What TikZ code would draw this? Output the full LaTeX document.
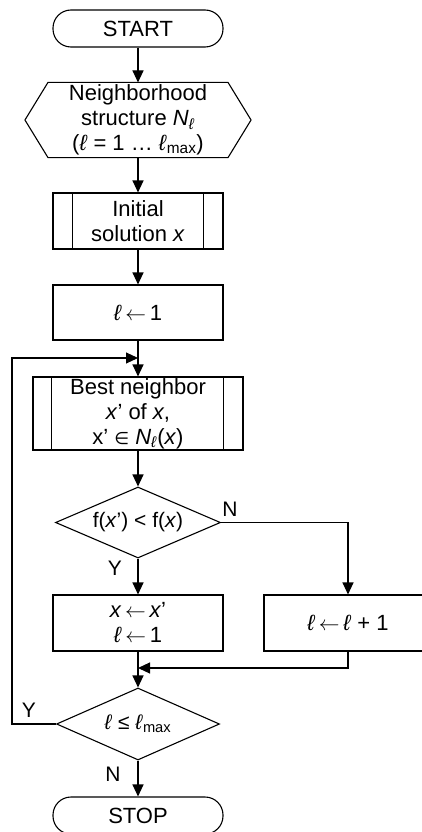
\documentclass[tikz,border=0pt]{standalone}
\usepackage{fontspec}
\setmainfont{Liberation Sans}
\newfontfamily\symfont{DejaVu Sans}
\usetikzlibrary{shapes.geometric,arrows.meta}
\newcommand{\lit}{\textit{ℓ}}
\newcommand{\larr}{\,$\leftarrow$\,}
\begin{document}
\begin{tikzpicture}[x=1pt,y=-1pt,line width=1.1pt,
  font=\fontsize{22}{25}\selectfont,
  arr/.style={-{Triangle[length=12pt,width=11pt]}},
  box/.style={draw,rectangle,inner sep=0pt,align=center},
  term/.style={box,rounded corners=18pt,minimum width=170,minimum height=37},
  plain/.style={inner sep=0pt,align=center},
  dia/.style={draw,diamond,aspect=2.3,inner sep=0pt,align=center,font=\fontsize{21}{24}\selectfont},
  lab/.style={inner sep=0pt,font=\fontsize{21}{24}\selectfont}
]
\useasboundingbox (0,0) rectangle (422,832);

\node[term] (start) at (138,28.5) {START};

\node[plain,minimum width=225,minimum height=74] (hex) at (138,120)
  {Neighborhood\\ structure \textit{N}\textsubscript{\lit}\\ (\lit\ = 1 … \lit\textsubscript{max})};
\draw ([xshift=23pt]hex.north west) -- ([xshift=-23pt]hex.north east) -- (hex.east)
  -- ([xshift=-23pt]hex.south east) -- ([xshift=23pt]hex.south west) -- (hex.west) -- cycle;

\node[box,minimum width=170,minimum height=56] (init) at (138,221) {Initial\\ solution \textit{x}};
\draw ([xshift=20pt]init.north west) -- ([xshift=20pt]init.south west);
\draw ([xshift=-20pt]init.north east) -- ([xshift=-20pt]init.south east);

\node[box,minimum width=170,minimum height=55] (l1) at (138,312.5) {\lit\larr 1};

\node[box,minimum width=210,minimum height=73] (best) at (138,413.5)
  {Best neighbor\\ \textit{x}' of \textit{x},\\ x' {\symfont\fontsize{17}{20}\selectfont ∈} \textit{N}\textsubscript{\lit}(\textit{x})};
\draw ([xshift=19pt]best.north west) -- ([xshift=19pt]best.south west);
\draw ([xshift=-20pt]best.north east) -- ([xshift=-20pt]best.south east);

\node[dia,minimum width=165,minimum height=71] (d1) at (138,522.5) {f(\textit{x}') < f(\textit{x})};

\node[box,minimum width=170,minimum height=56] (xx) at (138,623) {\textit{x}\larr\textit{x}'\\ \lit\larr 1};
\node[box,minimum width=168,minimum height=56] (linc) at (348,623) {\lit\larr\lit\ + 1};

\node[dia,minimum width=163,minimum height=72] (d2) at (138,724) {\lit\ ≤ \lit\textsubscript{max}};

\node[term] (stop) at (138,815.5) {STOP};

\coordinate (merge) at (138,668);
\coordinate (loopL) at (12,358);
\coordinate (loopin) at (138,358);

\draw[arr] (start.south) -- (hex.north);
\draw[arr] (hex.south) -- (init.north);
\draw[arr] (init.south) -- (l1.north);
\draw[arr] (l1.south) -- (best.north);
\draw[arr] (best.south) -- (d1.north);
\draw[arr] (d1.south) -- (xx.north);
\draw[arr] (d1.east) -| (linc.north);
\draw[arr] (linc.south) |- (merge);
\draw[arr] (xx.south) -- (d2.north);
\draw[arr] (d2.west) -| (loopL) -- (loopin);
\draw[arr] (d2.south) -- (stop.north);

\node[lab] (n1) at (230,509) {N};
\node[lab] (y1) at (115,568) {Y};
\node[lab] (y2) at (29,710) {Y};
\node[lab] (n2) at (113,774) {N};
\end{tikzpicture}
\end{document}
